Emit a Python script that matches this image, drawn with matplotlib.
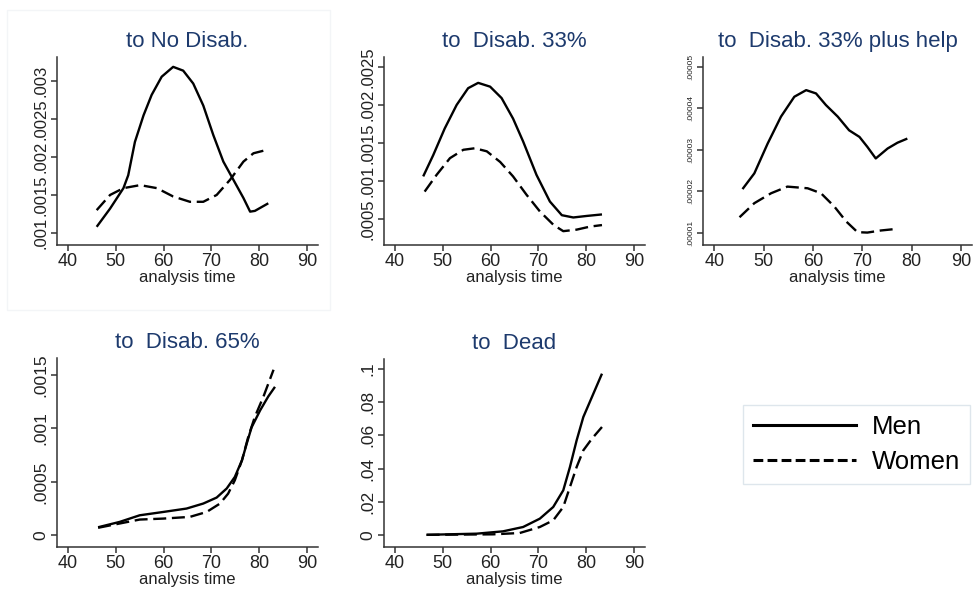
import matplotlib
matplotlib.use("Agg")
import matplotlib.pyplot as plt
from matplotlib.patches import Rectangle
from matplotlib.lines import Line2D

plt.rcParams['font.family'] = ['Liberation Sans', 'DejaVu Sans']

# ---------------- data ----------------
titles = ["to No Disab.", "to  Disab. 33%", "to  Disab. 33% plus help",
          "to  Disab. 65%", "to  Dead"]
xticks = [40, 50, 60, 70, 80, 90]
xtick_labels = ["40", "50", "60", "70", "80", "90"]

# panel 1: to No Disab.
p1_men_x = [46.0, 48.8, 51.6, 52.6, 54.0, 55.8, 57.5, 59.6, 62.0, 64.1, 66.2, 68.3, 70.4, 72.5, 74.6, 76.7, 78.1, 79.1, 81.9]
p1_men_y = [.00108, .00132, .00159, .00176, .0022, .00255, .00282, .00306, .00319, .00314, .00297, .00268, .00229, .00194, .0017, .00146, .00128, .00129, .00139]
p1_wom_x = [46.0, 48.8, 51.6, 55.1, 58.6, 62.0, 65.5, 68.3, 71.1, 73.9, 76.7, 78.8, 81.9]
p1_wom_y = [.0013, .0015, .00159, .00163, .00159, .00148, .00141, .00141, .0015, .0017, .00194, .00205, .0021]
p1_yticks = [.001, .0015, .002, .0025, .003]
p1_ylabels = [".001", ".0015", ".002", ".0025", ".003"]

# panel 2: to Disab. 33%
p2_men_x = [45.9, 48.0, 50.4, 52.9, 55.3, 57.4, 59.9, 62.3, 64.7, 66.8, 69.6, 72.4, 74.9, 77.3, 80.1, 83.3]
p2_men_y = [.00106, .00134, .00169, .002, .00222, .00229, .00224, .00209, .00182, .00152, .00108, .00073, .00055, .00052, .00054, .00056]
p2_wom_x = [46.2, 48.7, 51.5, 54.3, 56.7, 59.2, 62.0, 64.7, 67.5, 70.3, 73.2, 75.2, 78.0, 80.8, 83.3]
p2_wom_y = [.00086, .00108, .0013, .00141, .00143, .00139, .00125, .00106, .00082, .0006, .00042, .00034, .00036, .0004, .00042]
p2_yticks = [.0005, .001, .0015, .002, .0025]
p2_ylabels = [".0005", ".001", ".0015", ".002", ".0025"]

# panel 3: to Disab. 33% plus help
p3_men_x = [45.7, 48.1, 50.8, 53.5, 56.2, 58.6, 60.6, 62.6, 65.0, 67.3, 69.4, 71.0, 72.7, 75.1, 77.1, 79.1]
p3_men_y = [.0000205, .0000243, .0000315, .000038, .0000428, .0000444, .0000436, .0000408, .000038, .0000347, .0000331, .0000307, .0000279, .0000303, .0000317, .0000327]
p3_wom_x = [45.1, 48.1, 51.5, 54.8, 58.9, 61.6, 64.3, 66.7, 69.0, 71.0, 73.7, 77.0]
p3_wom_y = [.0000137, .0000171, .0000195, .0000211, .0000207, .0000195, .0000163, .0000127, .0000101, .00001, .0000105, .0000109]
p3_yticks = [.00001, .00002, .00003, .00004, .00005]
p3_ylabels = [".00001", ".00002", ".00003", ".00004", ".00005"]

# panel 4: to Disab. 65%
p4_men_x = [46.3, 50.8, 55.0, 59.9, 64.8, 68.3, 71.1, 73.2, 74.9, 76.4, 77.4, 78.4, 80.2, 81.9, 83.3]
p4_men_y = [.000075, .000125, .000187, .000218, .00025, .000297, .000353, .000438, .000546, .000703, .00086, .00101, .00117, .0013, .00139]
p4_wom_x = [46.3, 50.8, 55.0, 59.9, 65.5, 69.0, 71.8, 73.5, 74.9, 76.4, 77.7, 79.1, 80.9, 83.0]
p4_wom_y = [.00007, .00011, .000147, .000156, .000172, .000218, .000297, .00039, .000515, .000703, .00092, .00111, .0013, .00155]
p4_yticks = [0, .0005, .001, .0015]
p4_ylabels = ["0", ".0005", ".001", ".0015"]

# panel 5: to Dead
p5_men_x = [46.6, 57.1, 62.6, 66.8, 70.3, 73.1, 75.2, 76.6, 78.0, 79.4, 81.2, 83.3]
p5_men_y = [.0003, .001, .0024, .005, .01, .017, .027, .041, .057, .071, .083, .097]
p5_wom_x = [46.6, 60.5, 66.1, 70.3, 73.1, 75.2, 76.6, 78.0, 79.4, 81.2, 83.3]
p5_wom_y = [.0003, .0006, .0014, .005, .009, .017, .029, .041, .051, .058, .065]
p5_yticks = [0, .02, .04, .06, .08, .1]
p5_ylabels = ["0", ".02", ".04", ".06", ".08", ".1"]

legend_labels = ["Men", "Women"]

# ---------------- figure ----------------
W, H = 973, 591
fig = plt.figure(figsize=(W / 100, H / 100), dpi=100)
fig.patch.set_facecolor("white")

def px_axes(l, r, t, b):
    return fig.add_axes([l / W, 1 - b / H, (r - l) / W, (b - t) / H])

title_col = "#1d3a6d"
ink = "#222222"
lw = 1.7
dash = (0, (5.5, 2.4))

panels = [
    (px_axes(57, 318, 57, 245), p1_men_x, p1_men_y, p1_wom_x, p1_wom_y,
     p1_yticks, p1_ylabels, (0.00084, 0.00332), 12),
    (px_axes(384, 645, 57, 245), p2_men_x, p2_men_y, p2_wom_x, p2_wom_y,
     p2_yticks, p2_ylabels, (0.000158, 0.00263), 12),
    (px_axes(703, 972, 57, 245), p3_men_x, p3_men_y, p3_wom_x, p3_wom_y,
     p3_yticks, p3_ylabels, (0.0000070, 0.0000524), 6),
    (px_axes(57, 318, 358, 547), p4_men_x, p4_men_y, p4_wom_x, p4_wom_y,
     p4_yticks, p4_ylabels, (-0.00011, 0.00166), 12.5),
    (px_axes(384, 645, 359, 547), p5_men_x, p5_men_y, p5_wom_x, p5_wom_y,
     p5_yticks, p5_ylabels, (-0.007, 0.1058), 12.5),
]

xlims = [(37.7, 92.3), (37.7, 92.3), (37.7, 92.2), (37.7, 92.3), (37.7, 92.3)]

for i, (ax, mx, my, wx, wy, yt, yl, ylim, ysz) in enumerate(panels):
    ax.plot(mx, my, color="black", lw=lw, solid_capstyle="butt", solid_joinstyle="round")
    ax.plot(wx, wy, color="black", lw=lw, linestyle=dash, dash_capstyle="butt",
            dash_joinstyle="round")
    ax.set_xlim(*xlims[i])
    ax.set_ylim(*ylim)
    ax.set_xticks(xticks)
    ax.set_xticklabels(xtick_labels, fontsize=13, color=ink)
    ax.set_yticks(yt)
    ax.set_yticklabels(yl, fontsize=ysz, color=ink, rotation=90, va="center")
    for s in ("top", "right"):
        ax.spines[s].set_visible(False)
    for s in ("left", "bottom"):
        ax.spines[s].set_color("#333333")
        ax.spines[s].set_linewidth(1.1)
    ax.tick_params(axis="both", length=4, width=1.1, color="#333333", pad=2)
    ax.set_xlabel("analysis time", fontsize=12, color=ink, labelpad=0)
    ax.set_title(titles[i], fontsize=16, color=title_col, pad=7)
    ax.patch.set_alpha(0)

# faint panel frame around first graph
fig.patches.append(Rectangle((7 / W, 1 - 310 / H), 323 / W, 300 / H,
                             transform=fig.transFigure, fill=False,
                             edgecolor="#f3f5f7", lw=1))

# legend
handles = [Line2D([], [], color="black", lw=2.2),
           Line2D([], [], color="black", lw=2.2, linestyle=(0, (3.2, 1.4)))]
leg = fig.legend(handles, legend_labels, loc="upper left",
                 bbox_to_anchor=(743 / W, 1 - 405 / H),
                 frameon=True, fancybox=False, fontsize=18.5,
                 handlelength=4.0, handletextpad=0.6, labelspacing=0.4,
                 borderpad=0.4, borderaxespad=0)
leg.get_frame().set_edgecolor("#d6e0e8")
leg.get_frame().set_linewidth(1)

fig.savefig("out.png", dpi=100, facecolor="white")
